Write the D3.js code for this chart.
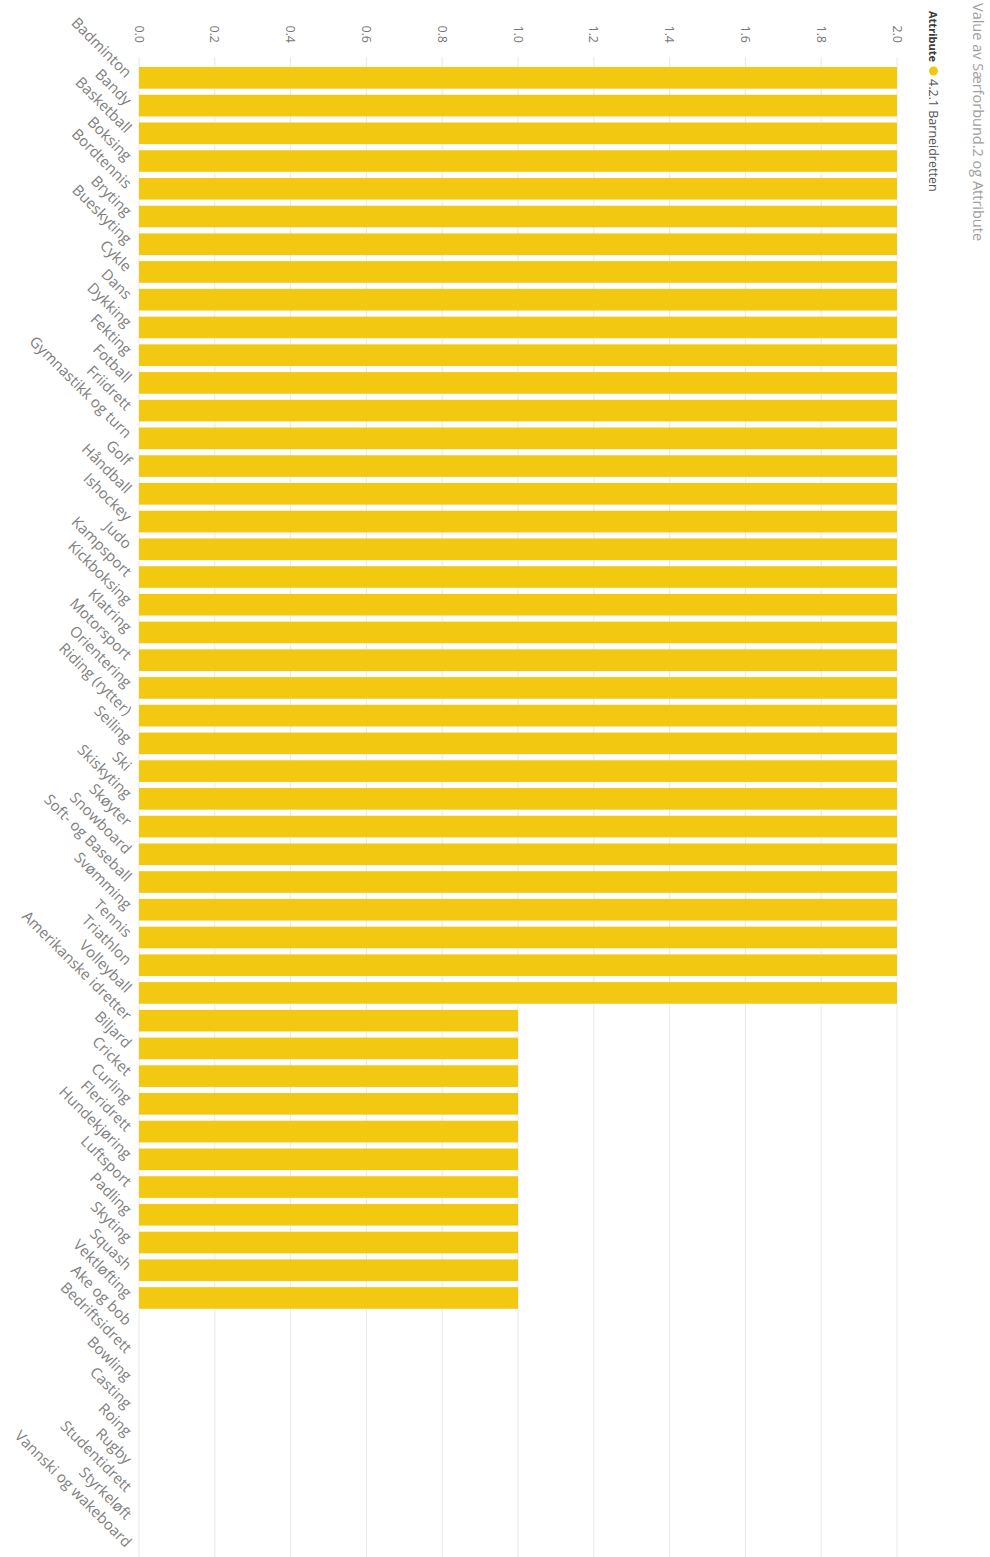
<!DOCTYPE html>
<html>
<head>
<meta charset="utf-8">
<script src="https://cdn.jsdelivr.net/npm/d3@7"></script>
<style>
  body { margin: 0; background: #fff; }
  svg { display: block; }
</style>
</head>
<body>
<div id="chart"></div>
<script>
// Power BI style column chart, photographed rotated 90° clockwise.
// Drawn in the chart's own frame, then the whole group is turned.

const CHART_TITLE = 'Value av Særforbund.2 og Attribute';
const LEGEND_TITLE = 'Attribute';
const SERIES_NAME = '4.2.1 Barneidretten';

const CATEGORIES = [
  'Badminton', 'Bandy', 'Basketball', 'Boksing', 'Bordtennis', 'Bryting',
  'Bueskyting', 'Cykle', 'Dans', 'Dykking', 'Fekting', 'Fotball', 'Friidrett',
  'Gymnastikk og turn', 'Golf', 'Håndball', 'Ishockey', 'Judo', 'Kampsport',
  'Kickboksing', 'Klatring', 'Motorsport', 'Orientering', 'Riding (rytter)',
  'Seiling', 'Ski', 'Skiskyting', 'Skøyter', 'Snowboard', 'Soft- og Baseball',
  'Svømming', 'Tennis', 'Triathlon', 'Volleyball', 'Amerikanske idretter',
  'Biljard', 'Cricket', 'Curling', 'Fleridrett', 'Hundekjøring', 'Luftsport',
  'Padling', 'Skyting', 'Squash', 'Vektløfting', 'Ake og bob', 'Bedriftsidrett',
  'Bowling', 'Casting', 'Roing', 'Rugby', 'Studentidrett', 'Styrkeløft',
  'Vannski og wakeboard',
];

const VALUES = [
  2, 2, 2, 2, 2, 2, 2, 2, 2, 2, 2, 2, 2, 2, 2, 2, 2,
  2, 2, 2, 2, 2, 2, 2, 2, 2, 2, 2, 2, 2, 2, 2, 2, 2,
  1, 1, 1, 1, 1, 1, 1, 1, 1, 1, 1,
  0, 0, 0, 0, 0, 0, 0, 0, 0,
];

const VALUE_TICKS = [0, 0.2, 0.4, 0.6, 0.8, 1.0, 1.2, 1.4, 1.6, 1.8, 2.0];

const PAGE_W = 990, PAGE_H = 1557;
const BAR_COLOR = '#F2C811';
const FONT = "'Open Sans', 'DejaVu Sans', sans-serif";

// chart frame (before rotation): width = page height, height = page width
const FW = PAGE_H, FH = PAGE_W;

const data = CATEGORIES.map((c, i) => ({ cat: c, value: VALUES[i] }));

const x = d3.scaleBand()
  .domain(CATEGORIES)
  .range([64, 1561.4])
  .paddingInner(0.22)
  .paddingOuter(0.11);

const y = d3.scaleLinear()
  .domain([0, 2])
  .range([851, 93]);

const svg = d3.select('#chart').append('svg')
  .attr('width', PAGE_W)
  .attr('height', PAGE_H)
  .attr('viewBox', `0 0 ${PAGE_W} ${PAGE_H}`)
  .style('font-family', FONT);

const g = svg.append('g')
  .attr('transform', `translate(${PAGE_W},0) rotate(90)`);

// Title
g.append('text')
  .attr('x', 3).attr('y', 17)
  .attr('font-size', 14.5)
  .attr('fill', '#a0a0a0')
  .text(CHART_TITLE);

// Legend
g.append('text')
  .attr('x', 11).attr('y', 61)
  .attr('font-size', 11)
  .attr('font-weight', 700)
  .attr('fill', '#3c3c3c')
  .text(LEGEND_TITLE);
g.append('circle')
  .attr('cx', 71).attr('cy', 56.5).attr('r', 4.5)
  .attr('fill', BAR_COLOR);
g.append('text')
  .attr('x', 79).attr('y', 61)
  .attr('font-size', 12.5)
  .attr('fill', '#555')
  .text(SERIES_NAME);

// Gridlines
g.append('g')
  .selectAll('line')
  .data(VALUE_TICKS)
  .enter().append('line')
  .attr('x1', 57).attr('x2', FW)
  .attr('y1', d => y(d)).attr('y2', d => y(d))
  .attr('stroke', '#e8e8e8')
  .attr('stroke-width', 1);

// Value axis
g.append('g')
  .attr('transform', 'translate(46,0)')
  .call(d3.axisLeft(y).tickValues(VALUE_TICKS).tickFormat(d3.format('.1f')).tickSize(0).tickPadding(3))
  .call(ax => ax.select('.domain').remove())
  .call(ax => ax.selectAll('.tick text')
    .attr('fill', '#777').attr('font-size', 12.5).attr('font-family', FONT));

// Bars
g.append('g')
  .selectAll('rect')
  .data(data)
  .enter().append('rect')
  .attr('x', d => x(d.cat))
  .attr('y', d => y(d.value))
  .attr('width', x.bandwidth())
  .attr('height', d => y(0) - y(d.value))
  .attr('fill', BAR_COLOR);

// Category labels, slanted
g.append('g')
  .selectAll('text')
  .data(CATEGORIES)
  .enter().append('text')
  .attr('transform', c => `translate(${x(c) + x.bandwidth() / 2 - 3},861) rotate(-45)`)
  .attr('text-anchor', 'end')
  .attr('dy', '0.35em')
  .attr('font-size', 15)
  .attr('fill', '#808080')
  .text(c => c);
</script>
</body>
</html>
